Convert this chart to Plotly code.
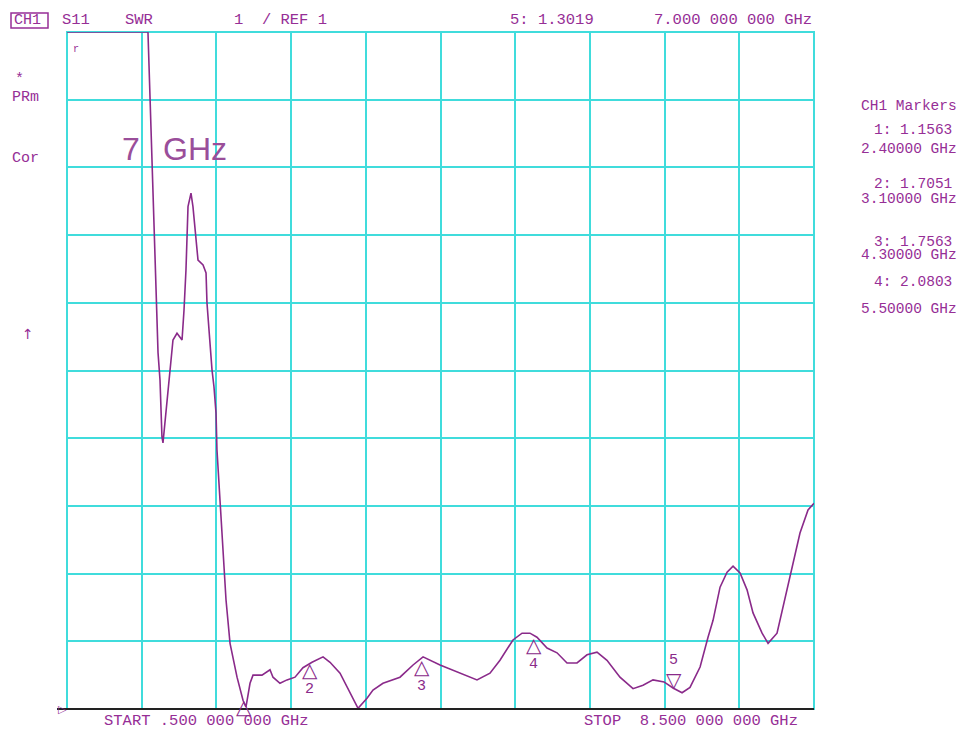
import plotly.graph_objects as go

# ---- data ----
freq_ghz = [0.5, 1.367, 1.389, 1.432, 1.453, 1.475, 1.496, 1.517, 1.528, 1.560, 1.603,
            1.635, 1.678, 1.732, 1.753, 1.774, 1.796, 1.828, 1.849, 1.882, 1.903,
            1.957, 1.989, 1.999, 2.031, 2.053, 2.074, 2.096, 2.106, 2.139, 2.203,
            2.246, 2.321, 2.385, 2.417, 2.460, 2.492, 2.588, 2.674, 2.706, 2.781,
            2.856, 2.942, 3.027, 3.124, 3.242, 3.317, 3.424, 3.531, 3.617, 3.713,
            3.777, 3.884, 4.066, 4.206, 4.313, 4.495, 4.709, 4.891, 5.030, 5.137,
            5.276, 5.373, 5.458, 5.533, 5.641, 5.748, 5.855, 5.962, 6.069, 6.176,
            6.283, 6.422, 6.562, 6.669, 6.776, 6.894, 6.990, 7.087, 7.172, 7.280,
            7.365, 7.419, 7.494, 7.569, 7.633, 7.708, 7.783, 7.847, 7.944, 8.008,
            8.104, 8.168, 8.265, 8.350, 8.436, 8.500]
swr = [11.0, 11.0, 10.04, 8.22, 7.00, 6.26, 5.86, 5.02, 4.93, 5.37, 6.01,
       6.45, 6.55, 6.45, 6.89, 7.48, 8.42, 8.62, 8.42, 7.93, 7.63,
       7.56, 7.44, 7.00, 6.35, 6.01, 5.76, 5.37, 4.83, 4.09, 2.61,
       1.97, 1.47, 1.13, 1.03, 1.38, 1.50, 1.50, 1.58, 1.47, 1.38,
       1.43, 1.47, 1.61, 1.69, 1.77, 1.69, 1.53, 1.24, 1.01, 1.16,
       1.28, 1.38, 1.47, 1.65, 1.77, 1.65, 1.53, 1.43, 1.53, 1.72,
       2.02, 2.12, 2.12, 2.06, 1.90, 1.83, 1.68, 1.68, 1.80, 1.84,
       1.72, 1.47, 1.30, 1.35, 1.43, 1.40, 1.31, 1.24, 1.32, 1.62,
       2.06, 2.31, 2.80, 3.02, 3.11, 3.01, 2.76, 2.42, 2.12, 1.97,
       2.12, 2.51, 3.10, 3.60, 3.94, 4.04]

marker_ids = ["1", "2", "3", "4", "5"]
marker_freq = [2.4, 3.1, 4.3, 5.5, 7.0]
marker_swr = [1.1563, 1.7051, 1.7563, 2.0803, 1.3019]

start_ghz, stop_ghz = 0.5, 8.5
ref_val, scale_per_div = 1, 1
n_div = 10

# ---- styling ----
OFF = 8  # page body margin
W, H = 970 - OFF, 731 - OFF
X0, X1, Y0, Y1 = 67, 814, 32, 709  # plot area in page pixels
L, T = X0 - OFF, Y0 - OFF
R, B = W - (X1 - OFF), H - (Y1 - OFF)
PW, PH = X1 - X0, Y1 - Y0
GRID = "#40dcdc"
TRACE = "#8a2a8a"
TXT = "#962e96"
MONO = "Liberation Mono, DejaVu Sans Mono, monospace"


def px(x):
    return (x - X0) / PW


def py(y):
    return 1 - (y - Y0) / PH


fig = go.Figure()
fig.add_trace(go.Scatter(x=freq_ghz, y=swr, mode="lines",
                         line=dict(color=TRACE, width=1.6), hoverinfo="skip",
                         showlegend=False))

dx = (stop_ghz - start_ghz) / n_div
fig.update_xaxes(range=[start_ghz, stop_ghz], tick0=start_ghz, dtick=dx,
                 showgrid=True, gridcolor=GRID, gridwidth=2,
                 showticklabels=False, ticks="", zeroline=False, showline=False)
fig.update_yaxes(range=[ref_val, ref_val + n_div * scale_per_div], tick0=ref_val,
                 dtick=scale_per_div, showgrid=True, gridcolor=GRID, gridwidth=2,
                 showticklabels=False, ticks="", zeroline=False, showline=False)

# frame
fig.add_shape(type="rect", xref="paper", yref="paper", x0=0, x1=1, y0=0, y1=1,
              line=dict(color=GRID, width=2), layer="below")
fig.add_shape(type="line", xref="paper", yref="paper", x0=px(57), x1=1, y0=0, y1=0,
              line=dict(color="#222222", width=2))

ann = []


def text(x, y, s, size=15.5, color=TXT, xanchor="left", font=MONO, yanchor="middle"):
    ann.append(dict(x=px(x), y=py(y), xref="paper", yref="paper", text=s,
                    showarrow=False, xanchor=xanchor, yanchor=yanchor,
                    font=dict(family=font, size=size, color=color)))


# header
text(12, 20, "CH1", size=15)
fig.add_shape(type="rect", xref="paper", yref="paper", x0=px(11), x1=px(48),
              y0=py(28), y1=py(13), line=dict(color=TXT, width=1.5))
text(60, 20, "S11")
text(123, 20, "SWR")
text(232, 20, "1  / REF 1")
text(508, 20, "5: 1.3019")
text(652, 20, "7.000 000 000 GHz")

# left annotations
text(13, 80, "*", size=15)
text(10, 97, "PRm", size=15)
text(10, 158, "Cor", size=15)
text(20, 334, "↑", size=14, font="DejaVu Sans")
text(71, 50, "r", size=10)

# big label
text(120, 149, "7", size=32, color="#9a4e9a", font="Liberation Sans")
text(161, 149, "GHz", size=32, color="#9a4e9a", font="Liberation Sans")

# marker readouts
RS = 14.5
text(909, 106, "CH1 Markers", size=RS, xanchor="center")
text(913, 130, "1: 1.1563", size=RS, xanchor="center")
text(909, 149, "2.40000 GHz", size=RS, xanchor="center")
text(913, 184, "2: 1.7051", size=RS, xanchor="center")
text(909, 199, "3.10000 GHz", size=RS, xanchor="center")
text(913, 242, "3: 1.7563", size=RS, xanchor="center")
text(909, 255, "4.30000 GHz", size=RS, xanchor="center")
text(913, 282, "4: 2.0803", size=RS, xanchor="center")
text(909, 309, "5.50000 GHz", size=RS, xanchor="center")

# bottom
text(102, 721, "START .500 000 000 GHz")
text(582, 721, "STOP  8.500 000 000 GHz")
text(56, 709, "▷", size=11, font="DejaVu Sans")

# markers on trace
for mid, f, v in zip(marker_ids, marker_freq, marker_swr):
    if mid == "5":
        ann.append(dict(x=f, y=v, xref="x", yref="y", text="▽", showarrow=False,
                        xanchor="center", yanchor="bottom", yshift=-5,
                        font=dict(family="DejaVu Sans", size=20, color=TRACE)))
        ann.append(dict(x=f, y=v, xref="x", yref="y", text=mid, showarrow=False,
                        xanchor="center", yanchor="bottom", yshift=18,
                        font=dict(family=MONO, size=15, color=TRACE)))
    else:
        ann.append(dict(x=f, y=v, xref="x", yref="y", text="△", showarrow=False,
                        xanchor="center", yanchor="top", yshift=5,
                        font=dict(family="DejaVu Sans", size=20, color=TRACE)))
        if mid != "1":
            ann.append(dict(x=f, y=v, xref="x", yref="y", text=mid, showarrow=False,
                            xanchor="center", yanchor="top", yshift=-18,
                            font=dict(family=MONO, size=15, color=TRACE)))

fig.update_layout(width=W, height=H, margin=dict(l=L, r=R, t=T, b=B),
                  paper_bgcolor="white", plot_bgcolor="white",
                  annotations=ann, showlegend=False)

fig.write_html("out.html")
